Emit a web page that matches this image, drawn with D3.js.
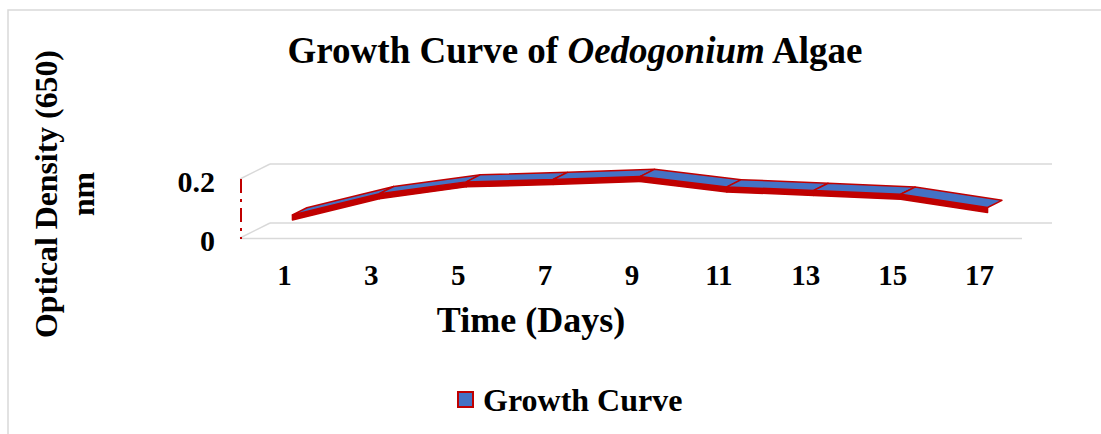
<!DOCTYPE html>
<html><head><meta charset="utf-8">
<script src="https://cdn.jsdelivr.net/npm/d3@7"></script>
<style>body{margin:0;background:#fff}text{font-family:"Liberation Serif","Times New Roman",serif;font-weight:bold;fill:#000}</style>
</head><body><svg id="c" width="1101" height="434"></svg>
<script>
const days = [1, 3, 5, 7, 9, 11, 13, 15, 17];
const growth = [0.063, 0.135, 0.175, 0.183, 0.193, 0.158, 0.146, 0.133, 0.088];
const yTicks = [0, 0.2];
const seriesName = "Growth Curve";

const svg = d3.select("#c");
svg.append("rect").attr("x", 8).attr("y", 10).attr("width", 1100).attr("height", 440)
  .attr("fill", "#fff").attr("stroke", "#d9d9d9").attr("stroke-width", 1.5);

const x = d3.scaleBand().domain(days).range([240, 1022]);
const y = d3.scaleLinear().domain([0, 0.2]).range([238, 179]);
const DX = 30, DY = -15;
const grid = "#d9d9d9";

yTicks.forEach(t => {
  svg.append("line").attr("x1", 240 + DX).attr("x2", 1022 + DX)
    .attr("y1", y(t) + DY).attr("y2", y(t) + DY).attr("stroke", grid).attr("stroke-width", 1.5);
  svg.append("line").attr("x1", 240).attr("x2", 240 + DX)
    .attr("y1", y(t)).attr("y2", y(t) + DY).attr("stroke", grid).attr("stroke-width", 1.5);
});
svg.append("line").attr("x1", 240).attr("x2", 1022).attr("y1", y(0) + 0.5).attr("y2", y(0) + 0.5)
  .attr("stroke", grid).attr("stroke-width", 1.5);
svg.append("line").attr("x1", 241).attr("x2", 241).attr("y1", y(0.2)).attr("y2", y(0) + 1)
  .attr("stroke", "#C00000").attr("stroke-width", 2).attr("stroke-dasharray", "14,6,3,6");

const dF = 0.3, dB = 0.78, thick = 5;
const pt = (i, d) => [x(days[i]) + x.bandwidth() / 2 + d * DX, y(growth[i]) + d * DY];
const g = svg.append("g");
for (let i = 0; i < days.length - 1; i++) {
  const f0 = pt(i, dF), f1 = pt(i + 1, dF);
  g.append("path").attr("d", d3.line()([f0, f1, [f1[0], f1[1] + thick], [f0[0], f0[1] + thick]]) + "Z")
    .attr("fill", "#C00000").attr("stroke", "#C00000").attr("stroke-width", 1.5).attr("stroke-linejoin", "round");
}
for (let i = 0; i < days.length - 1; i++) {
  const f0 = pt(i, dF), f1 = pt(i + 1, dF), b1 = pt(i + 1, dB), b0 = pt(i, dB);
  g.append("path").attr("d", d3.line()([f0, f1, b1, b0]) + "Z")
    .attr("fill", "#4472C4").attr("stroke", "#C00000").attr("stroke-width", 1.5).attr("stroke-linejoin", "round");
}

svg.append("g").selectAll("text").data(days).join("text")
  .attr("x", d => x(d) + x.bandwidth() / 2 + 1).attr("y", 285)
  .attr("text-anchor", "middle").attr("font-size", 29).text(d => d);
svg.append("g").selectAll("text").data(yTicks).join("text")
  .attr("x", 215).attr("y", d => y(d) + 13)
  .attr("text-anchor", "end").attr("font-size", 30).text(d => d);

const title = svg.append("text").attr("x", 575).attr("y", 63).attr("text-anchor", "middle").attr("font-size", 37);
title.append("tspan").text("Growth Curve of ");
title.append("tspan").attr("font-style", "italic").text("Oedogonium");
title.append("tspan").text(" Algae");

svg.append("text").attr("x", 531).attr("y", 332).attr("text-anchor", "middle").attr("font-size", 36).text("Time (Days)");

const yt = svg.append("text").attr("transform", "translate(57,194) rotate(-90)").attr("text-anchor", "middle").attr("font-size", 31.8);
yt.append("tspan").attr("x", 0).attr("dy", 0).text("Optical Density (650)");
yt.append("tspan").attr("x", 0).attr("dy", 37).text("nm");

svg.append("rect").attr("x", 458).attr("y", 392).attr("width", 15).attr("height", 15)
  .attr("fill", "#4472C4").attr("stroke", "#C00000").attr("stroke-width", 2);
svg.append("text").attr("x", 483).attr("y", 411).attr("font-size", 32).text(seriesName);
</script></body></html>
